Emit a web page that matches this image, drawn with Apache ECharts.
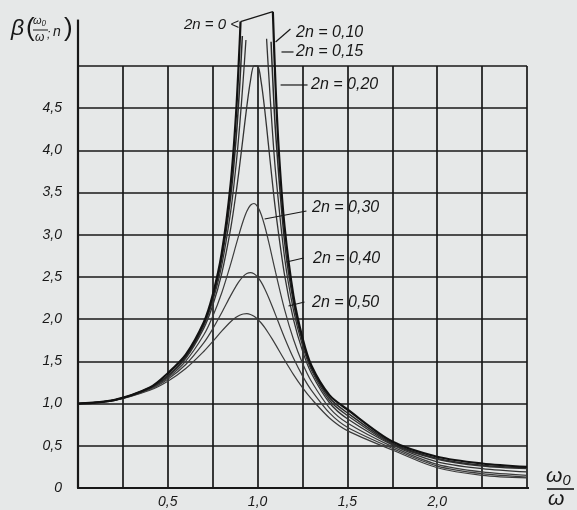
<!DOCTYPE html>
<html>
<head>
<meta charset="utf-8">
<script src="https://cdn.jsdelivr.net/npm/echarts@6/dist/echarts.min.js"></script>
<style>
  html, body { margin: 0; padding: 0; background: #e6e8e8; }
  #chart { width: 577px; height: 510px; }
</style>
</head>
<body>
<div id="chart"></div>
<script>
// Amplification factor β against the frequency ratio ω0/ω for several damping values 2n.

// shared abscissae for the smooth (well damped) curves
const ratioCommon = [0, 0.2, 0.4, 0.5, 0.6, 0.7, 0.75, 0.8, 0.85, 0.88, 0.9, 0.92, 0.94, 0.96, 0.98,
  1.0, 1.02, 1.04, 1.06, 1.08, 1.1, 1.15, 1.2, 1.25, 1.3, 1.4, 1.5, 1.75, 2.0, 2.25, 2.5];

const beta050 = [1.0, 1.036, 1.158, 1.265, 1.415, 1.617, 1.735, 1.858, 1.970, 2.022, 2.047, 2.062, 2.065, 2.056, 2.034,
  2.0, 1.955, 1.900, 1.837, 1.770, 1.699, 1.517, 1.344, 1.189, 1.055, 0.83, 0.68, 0.45, 0.24, 0.15, 0.12];
const beta040 = [1.0, 1.038, 1.169, 1.288, 1.463, 1.719, 1.885, 2.076, 2.279, 2.392, 2.457, 2.508, 2.541, 2.552, 2.538,
  2.5, 2.439, 2.359, 2.264, 2.160, 2.051, 1.780, 1.536, 1.329, 1.157, 0.89, 0.72, 0.47, 0.26, 0.17, 0.13];
const beta030 = [1.0, 1.040, 1.179, 1.307, 1.504, 1.813, 2.033, 2.311, 2.653, 2.880, 3.029, 3.166, 3.278, 3.350, 3.371,
  3.333, 3.240, 3.101, 2.931, 2.745, 2.557, 2.117, 1.759, 1.479, 1.262, 0.95, 0.77, 0.49, 0.28, 0.19, 0.15];
const beta020 = [1.0, 1.041, 1.185, 1.322, 1.536, 1.891, 2.162, 2.538, 3.073, 3.495, 3.821, 4.172, 4.522, 4.822, 5.001,
  5.0, 4.809, 4.476, 4.075, 3.668, 3.288, 2.524, 1.995, 1.625, 1.356, 1.01, 0.82, 0.51, 0.31, 0.23, 0.19];

// lightly damped curves run off the top of the grid, so each has its own abscissae (null = gap over the peak)
const ratio015 = [0, 0.2, 0.4, 0.5, 0.6, 0.7, 0.75, 0.8, 0.85, 0.88, 0.9, 0.92, 0.935, 1.0,
  1.05, 1.06, 1.08, 1.1, 1.15, 1.2, 1.25, 1.3, 1.4, 1.5, 1.75, 2.0, 2.25, 2.5];
const beta015 = [1.0, 1.041, 1.187, 1.327, 1.547, 1.920, 2.214, 2.635, 3.274, 3.826, 4.290, 4.843, 5.308, null,
  5.322, 4.966, 4.306, 3.744, 2.734, 2.104, 1.687, 1.395, 1.04, 0.86, 0.52, 0.34, 0.26, 0.23];

const ratio010 = [0, 0.2, 0.4, 0.5, 0.6, 0.7, 0.75, 0.8, 0.85, 0.88, 0.9, 0.915, 1.0,
  1.075, 1.08, 1.1, 1.15, 1.2, 1.25, 1.3, 1.4, 1.5, 1.75, 2.0, 2.25, 2.5];
const beta010 = [1.0, 1.041, 1.189, 1.330, 1.556, 1.943, 2.253, 2.712, 3.445, 4.130, 4.756, 5.355, null,
  5.287, 5.041, 4.218, 2.921, 2.193, 1.735, 1.424, 1.07, 0.89, 0.53, 0.35, 0.27, 0.24];

const ratio000 = [0, 0.2, 0.4, 0.5, 0.6, 0.7, 0.75, 0.8, 0.85, 0.88, 0.9, 0.905, 1.0,
  1.085, 1.1, 1.12, 1.15, 1.2, 1.25, 1.3, 1.4, 1.5, 1.75, 2.0, 2.25, 2.5];
const beta000 = [1.0, 1.042, 1.190, 1.36, 1.58, 1.961, 2.286, 2.778, 3.604, 4.433, 5.263, 5.526, null,
  5.643, 4.762, 3.931, 3.101, 2.273, 1.778, 1.449, 1.10, 0.93, 0.55, 0.37, 0.29, 0.25];

// bracket joining the two branches of the undamped curve
const bracketRatio = [0.905, 1.085];
const bracketBeta = [5.526, 5.643];

// axis tick values that carry a label
const xTickLabels = [0.5, 1.0, 1.5, 2.0];
const yTickLabels = [0, 0.5, 1.0, 1.5, 2.0, 2.5, 3.0, 3.5, 4.0, 4.5];

const dampingNames = ['2n = 0,10', '2n = 0,15', '2n = 0,20', '2n = 0,30', '2n = 0,40', '2n = 0,50'];

const pair = (xs, ys) => xs.map((x, i) => [x, ys[i] === null ? '-' : ys[i]]);
const comma = v => v.toFixed(1).replace('.', ',');

const INK = '#181818';
const CURVE = '#3c3c3c';
const FONT = 'Liberation Sans, Arial, sans-serif';

function curve(name, xs, ys, width, color) {
  return {
    name, type: 'line', data: pair(xs, ys), symbol: 'none', smooth: 0.3,
    connectNulls: false, clip: false, silent: true,
    lineStyle: { color: color || CURVE, width: width || 1.2 }
  };
}
function segment(a, b, width) {
  return {
    type: 'line', data: [a, b], symbol: 'none', clip: false, silent: true,
    lineStyle: { color: INK, width: width || 1.2 }
  };
}

// leader strokes from the curves towards their labels (data coordinates)
const leaderLines = [
  [[1.100, 5.284], [1.183, 5.438]],
  [[1.133, 5.166], [1.200, 5.166]],
  [[1.128, 4.775], [1.278, 4.775]],
  [[1.039, 3.187], [1.272, 3.282]],
  [[1.161, 2.678], [1.256, 2.725]],
  [[1.172, 2.156], [1.261, 2.204]]
];

const series = [
  curve('2n = 0,50', ratioCommon, beta050),
  curve('2n = 0,40', ratioCommon, beta040),
  curve('2n = 0,30', ratioCommon, beta030),
  curve('2n = 0,20', ratioCommon, beta020, 1.3, '#333333'),
  curve('2n = 0,15', ratio015, beta015, 1.3, '#333333'),
  curve('2n = 0,10', ratio010, beta010, 1.5, '#2a2a2a'),
  curve('2n = 0', ratio000, beta000, 2.2, '#121212'),
  segment([bracketRatio[0], bracketBeta[0]], [bracketRatio[1], bracketBeta[1]], 1.3),
  // axis lines carried past the grid
  segment([0, 5], [0, 5.55], 2.2),
  segment([2.5, 0], [2.56, 0], 2.2)
].concat(leaderLines.map(l => segment(l[0], l[1], 1.2)));

const labelSpots = [
  [296, 33], [296, 52], [311, 85], [312, 208], [313, 259], [312, 303]
];

const graphic = [
  { type: 'text', x: 239, y: 25, style: { text: '2n = 0 <', font: 'italic 15px ' + FONT, fill: INK, align: 'right', verticalAlign: 'middle' } }
].concat(dampingNames.map((t, i) => ({
  type: 'text', x: labelSpots[i][0], y: labelSpots[i][1],
  style: { text: t, font: 'italic 16px ' + FONT, fill: INK, align: 'left', verticalAlign: 'middle' }
}))).concat([
  // ordinate title β(ω0/ω, n)
  { type: 'text', x: 11, y: 29, style: { text: 'β', font: 'italic 23px ' + FONT, fill: INK, align: 'left', verticalAlign: 'middle' } },
  { type: 'text', x: 26, y: 29, style: { text: '(', font: '26px ' + FONT, fill: INK, align: 'left', verticalAlign: 'middle' } },
  { type: 'text', x: 33, y: 21, style: { text: 'ω₀', font: 'italic 11px ' + FONT, fill: INK, align: 'left', verticalAlign: 'middle' } },
  { type: 'line', shape: { x1: 33, y1: 30, x2: 48, y2: 30 }, style: { stroke: INK, lineWidth: 1 } },
  { type: 'text', x: 35, y: 38, style: { text: 'ω', font: 'italic 12px ' + FONT, fill: INK, align: 'left', verticalAlign: 'middle' } },
  { type: 'text', x: 47, y: 35, style: { text: ';', font: 'italic 12px ' + FONT, fill: INK, align: 'left', verticalAlign: 'middle' } },
  { type: 'text', x: 53, y: 32, style: { text: 'n', font: 'italic 14px ' + FONT, fill: INK, align: 'left', verticalAlign: 'middle' } },
  { type: 'text', x: 64, y: 29, style: { text: ')', font: '26px ' + FONT, fill: INK, align: 'left', verticalAlign: 'middle' } },
  // abscissa title ω0/ω
  { type: 'text', x: 546, y: 476, style: { text: 'ω₀', font: 'italic 21px ' + FONT, fill: INK, align: 'left', verticalAlign: 'middle' } },
  { type: 'line', shape: { x1: 547, y1: 489, x2: 574, y2: 489 }, style: { stroke: INK, lineWidth: 1.6 } },
  { type: 'text', x: 548, y: 499, style: { text: 'ω', font: 'italic 21px ' + FONT, fill: INK, align: 'left', verticalAlign: 'middle' } }
]);

const near = (v, list) => list.some(t => Math.abs(t - v) < 1e-6);

const option = {
  animation: false,
  backgroundColor: '#e6e8e8',
  grid: { left: 78, right: 50, top: 66, bottom: 22, containLabel: false },
  xAxis: {
    type: 'value', min: 0, max: 2.5, interval: 0.25,
    axisLine: { show: true, lineStyle: { color: INK, width: 2.2 } },
    axisTick: { show: false },
    splitLine: { show: true, lineStyle: { color: INK, width: 1.7 } },
    axisLabel: {
      margin: 7, color: INK, fontSize: 14, fontStyle: 'italic', fontFamily: FONT,
      formatter: v => near(v, xTickLabels) ? comma(v) : ''
    }
  },
  yAxis: {
    type: 'value', min: 0, max: 5, interval: 0.5,
    axisLine: { show: true, lineStyle: { color: INK, width: 2.2 } },
    axisTick: { show: false },
    splitLine: { show: true, lineStyle: { color: INK, width: 1.7 } },
    axisLabel: {
      margin: 16, color: INK, fontSize: 14, fontStyle: 'italic', fontFamily: FONT,
      formatter: v => near(v, yTickLabels) ? (v === 0 ? '0' : comma(v)) : ''
    }
  },
  series,
  graphic
};

const chart = echarts.init(document.getElementById('chart'), null, { renderer: 'canvas' });
chart.setOption(option);
</script>
</body>
</html>
